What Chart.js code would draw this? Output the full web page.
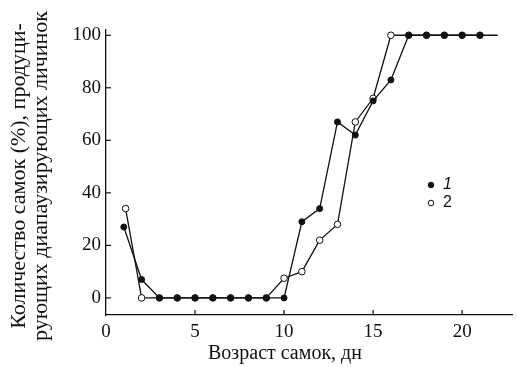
<!DOCTYPE html>
<html>
<head>
<meta charset="utf-8">
<script src="https://cdn.jsdelivr.net/npm/chart.js@4/dist/chart.umd.min.js"></script>
<style>
  html, body { margin: 0; padding: 0; background: #fff; }
  #wrap { width: 517px; height: 367px; position: relative; }
</style>
</head>
<body>
<div id="wrap"><canvas id="chart"></canvas></div>
<script>
// возраст самок (дни)
const days1 = [1, 2, 3, 4, 5, 6, 7, 8, 9, 10, 11, 12, 13, 14, 15, 16, 17, 18, 19, 20, 21, 22];
const series1 = [27, 7, 0, 0, 0, 0, 0, 0, 0, 0, 29, 34, 67, 62, 75, 83, 100, 100, 100, 100, 100, 100];
const days2 = [1.1, 2, 3, 4, 5, 6, 7, 8, 9, 10, 11, 12, 13, 14, 15, 16, 17, 18, 19, 20, 21];
const series2 = [34, 0, 0, 0, 0, 0, 0, 0, 0, 7.5, 10, 22, 28, 67, 76, 100, 100, 100, 100, 100, 100];
const xTicks = [0, 5, 10, 15, 20];
const yTicks = [0, 20, 40, 60, 80, 100];
const legendLabels = ['1', '2'];

const xTitle = 'Возраст самок, дн';
const yTitle = ['Количество самок (%), продуци-', 'рующих диапаузирующих личинок'];

const serif = '"Liberation Serif", "Times New Roman", serif';

// тики внутрь области графика
const innerTicks = {
  id: 'innerTicks',
  afterDraw(chart) {
    const ctx = chart.ctx;
    const x = chart.scales.x, y = chart.scales.y;
    ctx.save();
    ctx.strokeStyle = '#111';
    ctx.lineWidth = 1.2;
    xTicks.forEach(v => {
      if (v === 0) return;
      const px = x.getPixelForValue(v);
      ctx.beginPath();
      ctx.moveTo(px, y.bottom);
      ctx.lineTo(px, y.bottom - 5);
      ctx.stroke();
    });
    yTicks.forEach(v => {
      const py = y.getPixelForValue(v);
      ctx.beginPath();
      ctx.moveTo(x.left, py);
      ctx.lineTo(x.left + 5, py);
      ctx.stroke();
    });
    ctx.restore();
  }
};

// подписи осей (как в оригинале — не по центру оси)
const axisTitles = {
  id: 'axisTitles',
  afterDraw(chart) {
    const ctx = chart.ctx;
    ctx.save();
    ctx.fillStyle = '#111';
    ctx.textAlign = 'center';
    ctx.textBaseline = 'middle';
    ctx.font = '20px ' + serif;
    ctx.fillText(xTitle, 285, 354);
    ctx.translate(0, 176);
    ctx.rotate(-Math.PI / 2);
    ctx.font = '22px ' + serif;
    ctx.fillText(yTitle[0], 0, 19);
    ctx.fillText(yTitle[1], 0, 41);
    ctx.restore();
  }
};

// легенда внутри графика
const innerLegend = {
  id: 'innerLegend',
  afterDraw(chart) {
    const ctx = chart.ctx;
    ctx.save();
    const lx = 431, ly = [185, 203];
    ly.forEach((yy, i) => {
      ctx.beginPath();
      ctx.arc(lx, yy, 2.8, 0, Math.PI * 2);
      ctx.fillStyle = i === 0 ? '#111' : '#fff';
      ctx.fill();
      ctx.lineWidth = 1;
      ctx.strokeStyle = '#111';
      ctx.stroke();
      ctx.fillStyle = '#111';
      ctx.font = (i === 0 ? 'italic ' : '') + '16px "Liberation Sans", Arial, sans-serif';
      ctx.textBaseline = 'middle';
      ctx.textAlign = 'left';
      ctx.fillText(legendLabels[i], lx + 12, yy);
    });
    ctx.restore();
  }
};

new Chart(document.getElementById('chart'), {
  type: 'scatter',
  data: {
    datasets: [
      {
        label: '2',
        data: days2.map((d, i) => ({ x: d, y: series2[i] })),
        showLine: true,
        borderColor: '#111',
        borderWidth: 1.3,
        pointRadius: 3.3,
        pointBackgroundColor: '#fff',
        pointBorderColor: '#111',
        pointBorderWidth: 1,
        tension: 0,
        order: 2
      },
      {
        label: '1',
        data: days1.map((d, i) => ({ x: d, y: series1[i] })),
        showLine: true,
        borderColor: '#111',
        borderWidth: 1.3,
        pointRadius: ctx => (ctx.dataIndex === days1.length - 1 ? 0 : 3),
        pointBackgroundColor: '#111',
        pointBorderColor: '#111',
        pointBorderWidth: 1,
        tension: 0,
        order: 1
      }
    ]
  },
  options: {
    responsive: true,
    maintainAspectRatio: false,
    animation: false,
    layout: { padding: { top: 30, right: 4, left: 0, bottom: 0 } },
    plugins: {
      legend: { display: false },
      tooltip: { enabled: false }
    },
    scales: {
      x: {
        type: 'linear',
        min: 0,
        max: 22.8,
        afterBuildTicks: scale => { scale.ticks = xTicks.map(v => ({ value: v })); },
        afterFit: scale => { scale.height = 52; },
        grid: { display: false, drawTicks: false },
        border: { display: true, color: '#111', width: 1.3 },
        ticks: { color: '#111', font: { family: serif, size: 19 }, padding: 6, maxRotation: 0 },
        title: { display: false }
      },
      y: {
        type: 'linear',
        min: -6.5,
        max: 102,
        afterBuildTicks: scale => { scale.ticks = yTicks.map(v => ({ value: v })); },
        afterFit: scale => { scale.width = 106; },
        grid: { display: false, drawTicks: false },
        border: { display: true, color: '#111', width: 1.3 },
        ticks: { color: '#111', font: { family: serif, size: 19 }, padding: 5 },
        title: { display: false }
      }
    }
  },
  plugins: [innerTicks, axisTitles, innerLegend]
});
</script>
</body>
</html>
